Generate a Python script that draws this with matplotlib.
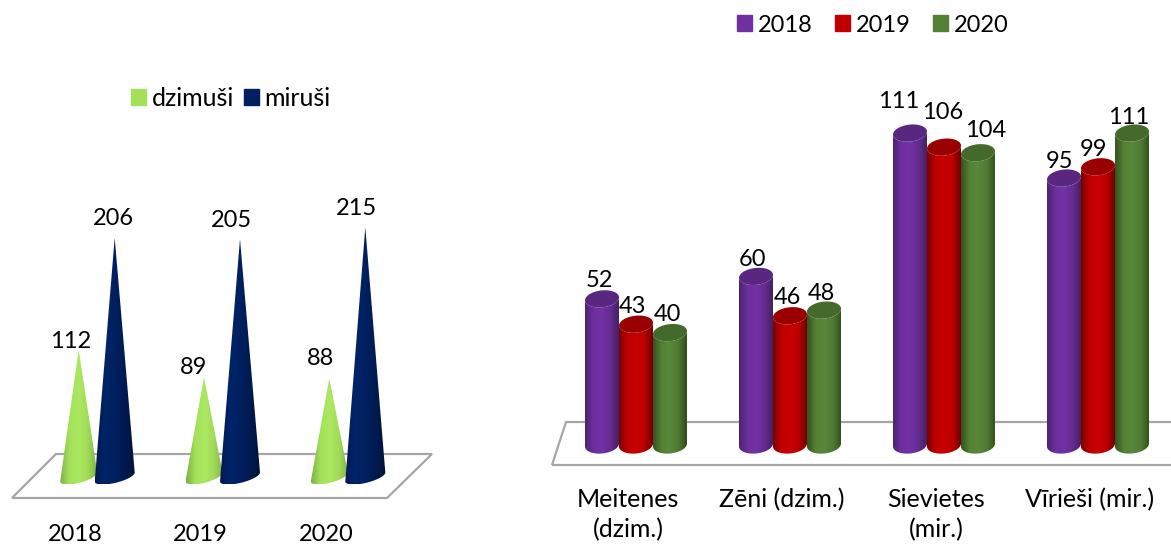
"""Births/deaths cone chart and gender cylinder chart."""
import numpy as np
import matplotlib; matplotlib.use('Agg'); import matplotlib.pyplot as plt
from matplotlib.colors import LinearSegmentedColormap as LSC
from matplotlib.patches import Patch, Polygon
from matplotlib.transforms import Affine2D
plt.rcParams['font.family'] = ['Lato', 'DejaVu Sans']

W, H = 1171, 544
FS_NUM, FS_TXT = 17, 18

# data
years = ['2018', '2019', '2020']
dzimusi = [112, 89, 88]
mirusi = [206, 205, 215]
groups = ['Meitenes\n(dzim.)', 'Zēni (dzim.)', 'Sievietes\n(mir.)', 'Vīrieši (mir.)']
s2018 = [52, 60, 111, 95]
s2019 = [43, 46, 106, 99]
s2020 = [40, 48, 104, 111]

# label nudges in pixels (dx, dy down), the source places them by hand
off_dz = [(-8, -8), (-10, -10), (-9, -20)]
off_mi = [(-1, -19), (-9, -19), (-9, -19)]
off_18 = [(-3, -18), (-3, -17), (-11, -32), (-4, -17)]
off_19 = [(-3, -18), (-3, -18), (-1, -35), (-4, -17)]
off_20 = [(-3, -18), (-3, -17), (8, -22), (-3, -16)]

fig = plt.figure(figsize=(W/100, H/100), dpi=100)
to_px = Affine2D().scale(1/W, -1/H).translate(0, 1) + fig.transFigure

def make_ax(x0, x1, top, bottom, cx, sx, y0, k):
    ax = fig.add_axes([x0/W, 1-bottom/H, (x1-x0)/W, (bottom-top)/H])
    ax.set_xlim((x0-cx)/sx, (x1-cx)/sx); ax.set_ylim((y0-bottom)/k, (y0-top)/k)
    ax.patch.set_visible(False); ax.set_yticks([])
    for s in ax.spines.values(): s.set_visible(False)
    ax.sx, ax.k = sx, k
    return ax

def arc(ax, x, v, hw, b, s, lower=True):
    # half (or full) tilted ellipse around data point (x,v), sizes in px
    t = np.linspace(0, np.pi if lower else 2*np.pi, 60)
    return np.c_[x+hw*np.cos(t)/ax.sx, v-(b*np.sin(t)-s*np.cos(t))/ax.k]

def grad_fill(ax, pts, colors, z):
    cm = LSC.from_list('g', colors)
    ext = [pts[:, 0].min(), pts[:, 0].max(), pts[:, 1].min(), pts[:, 1].max()]
    im = ax.imshow(np.linspace(0, 1, 256)[None, :], cmap=cm, extent=ext, aspect='auto', zorder=z, interpolation='bilinear')
    im.set_clip_path(Polygon(pts, closed=True, transform=ax.transData))

def cone(ax, x, v, hw, colors, z):
    base = arc(ax, x, 6/ax.k, hw, 6, 4.5)
    grad_fill(ax, np.r_[[[x, v]], base], colors, z)

def cylinder(ax, x, v, hw, colors, top, z):
    low = arc(ax, x, 0, hw, 8.5, 1.5)
    up = arc(ax, x, v, hw, 8.5, 1.5)[::-1]
    grad_fill(ax, np.r_[low, up], colors, z)
    ax.add_patch(Polygon(arc(ax, x, v, hw, 8.5, 1.5, lower=False), fc=top, ec='none', zorder=z+0.5))

def value_label(ax, x, v, off):
    ax.annotate(str(v), (x, v), xytext=(off[0]*0.72, -off[1]*0.72), textcoords='offset points',
                ha='center', va='center', fontsize=FS_NUM, color='black', zorder=20)

def floor(ax, pts):
    ax.add_patch(Polygon(pts, closed=True, fill=False, ec='#a6a6a6', lw=1.6, transform=to_px, clip_on=False, zorder=1))

# left chart: cones
axL = make_ax(0, 450, 0, 510, 96.7, 125.3, 483, 1.19)
floor(axL, [(12, 498), (387, 498), (432, 454), (56, 454)])
gap = 18/125.3
light = ['#7db044', '#a4e05a', '#abe862', '#a2dc58', '#7fb248']
navy = ['#001a50', '#002468', '#002060', '#001a50', '#00123a']
for i in range(len(years)):
    cone(axL, i-gap, dzimusi[i], 18.5, light, 3)
    cone(axL, i+gap, mirusi[i], 20, navy, 4)
    value_label(axL, i-gap, dzimusi[i], off_dz[i])
    value_label(axL, i+gap, mirusi[i], off_mi[i])
axL.set_xticks(np.arange(len(years))-21.5/125.3, years)
axL.tick_params(axis='x', length=0, pad=10, labelsize=FS_NUM)
fig.legend(handles=[Patch(color='#a4e05a', label='dzimuši'), Patch(color='#002060', label='miruši')],
           loc='center', bbox_to_anchor=(231/W, 1-98/H), ncol=2, frameon=False, fontsize=FS_TXT, borderpad=0,
           handlelength=0.6, handleheight=0.6, handletextpad=0.24, columnspacing=0.36)

# right chart: cylinders
axR = make_ax(500, W, 0, 478, 636, 154, 445, 2.81)
floor(axR, [(552, 465), (1178, 465), (1192, 422), (566, 422)])
step = 34/154
series = [(s2018, off_18, ['#4a2370', '#6e2f9e', '#7231a6', '#662c92', '#43205f'], '#5a2780', '#7030a0'),
          (s2019, off_19, ['#7a0000', '#c00000', '#c80000', '#bb0000', '#6e0000'], '#990000', '#c00000'),
          (s2020, off_20, ['#34521f', '#548235', '#58883a', '#4f7a32', '#304c1d'], '#446a2b', '#548235')]
for j, (vals, offs, cols, top, _) in enumerate(series):
    for i, v in enumerate(vals):
        x = i+(j-1)*step
        cylinder(axR, x, v, 17, cols, top, 3+j)
        value_label(axR, x, v, offs[i])
axR.set_xticks(np.arange(len(groups))-8/154, groups)
axR.tick_params(axis='x', length=0, pad=7, labelsize=FS_TXT)
for lb in axR.get_xticklabels(): lb.set_linespacing(1.4)
fig.legend(handles=[Patch(color=c[4], label=y) for c, y in zip(series, years)],
           loc='center', bbox_to_anchor=(873/W, 1-25/H), ncol=3, frameon=False, fontsize=FS_NUM, borderpad=0,
           handlelength=0.635, handleheight=0.635, handletextpad=0.25, columnspacing=0.95)

plt.savefig('out.png', dpi=100)
